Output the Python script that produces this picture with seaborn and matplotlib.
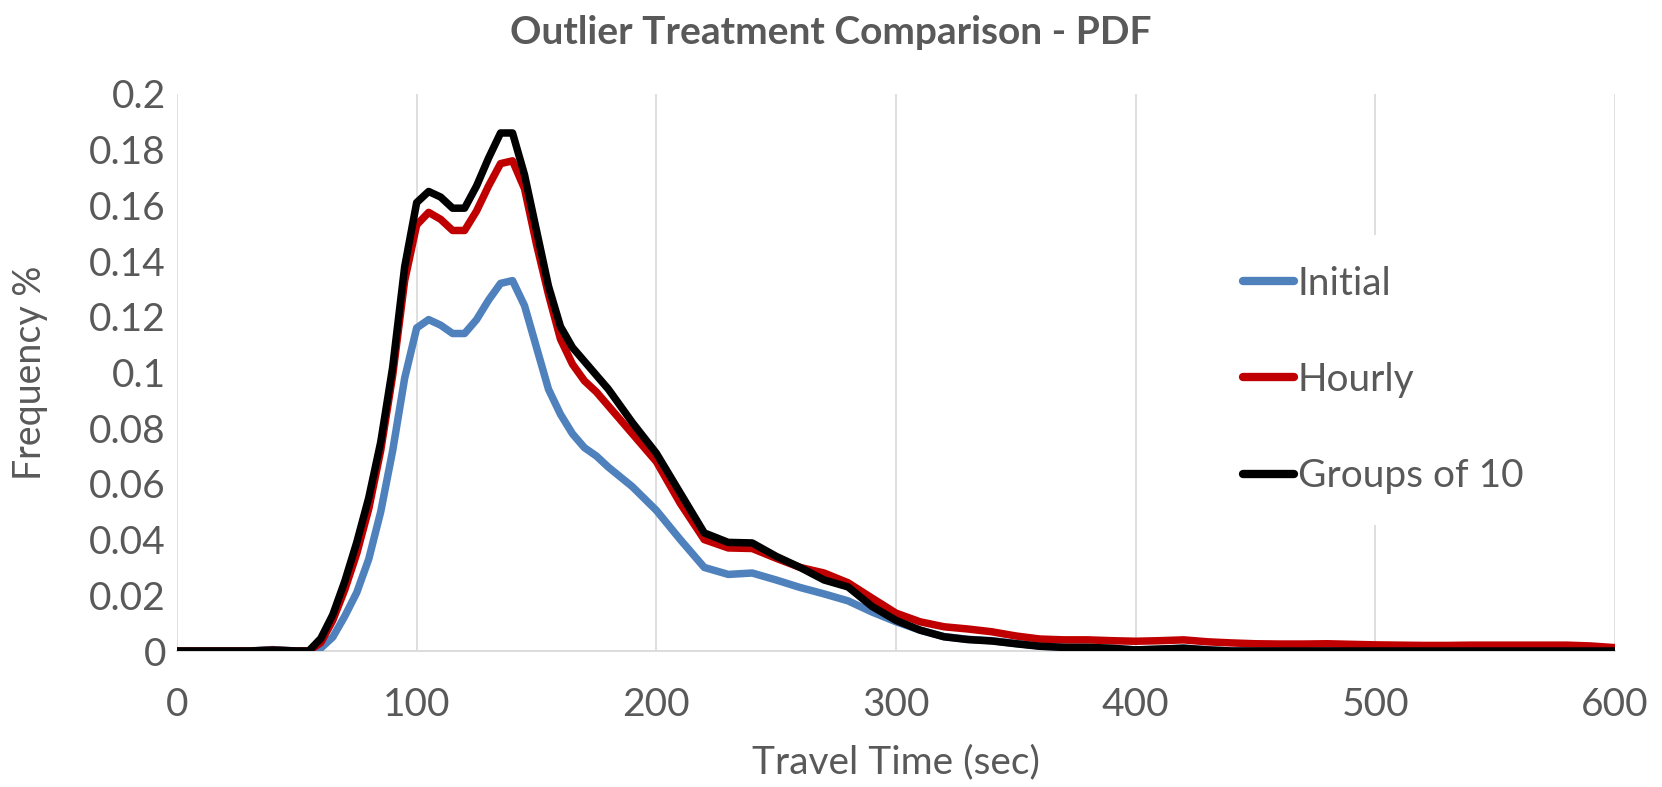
import numpy as np
import pandas as pd
import matplotlib
matplotlib.use("Agg")
import matplotlib.pyplot as plt
import seaborn as sns

# ---------------- data ----------------
travel_time = [0, 10, 20, 30, 40, 50, 55, 60, 65, 70, 75, 80, 85, 90, 95, 100, 105, 110, 115, 120,
               125, 130, 135, 140, 145, 150, 155, 160, 165, 170, 175, 180, 190, 200, 210, 220, 230,
               240, 250, 260, 270, 280, 290, 300, 310, 320, 330, 340, 350, 360, 370, 380, 390, 400,
               410, 420, 430, 440, 450, 460, 470, 480, 490, 500, 510, 520, 530, 540, 550, 560, 570,
               580, 590, 600]

initial = [0, 0, 0, 0, 0.0005, 0, 0, 0.001, 0.005, 0.0125, 0.021, 0.033, 0.050, 0.072, 0.098, 0.116,
           0.119, 0.117, 0.114, 0.114, 0.119, 0.126, 0.132, 0.133, 0.124, 0.109, 0.094, 0.085, 0.078,
           0.073, 0.070, 0.066, 0.059, 0.0505, 0.040, 0.030, 0.0275, 0.028, 0.0255, 0.0228, 0.0205,
           0.018, 0.014, 0.0105, 0.0075, 0.0052, 0.0042, 0.0037, 0.0027, 0.0018, 0.0013, 0.0012,
           0.0008, 0.0004, 0.0006, 0.001, 0.0004, 0, 0, 0, 0, 0, 0, 0, 0, 0, 0, 0, 0, 0, 0, 0, 0, 0]

hourly = [0, 0, 0, 0, 0.0003, 0, 0, 0.003, 0.011, 0.022, 0.035, 0.051, 0.072, 0.099, 0.133, 0.153,
          0.1575, 0.155, 0.151, 0.151, 0.158, 0.167, 0.175, 0.176, 0.166, 0.146, 0.128, 0.112, 0.103,
          0.097, 0.093, 0.088, 0.078, 0.068, 0.053, 0.040, 0.037, 0.0368, 0.0333, 0.030, 0.028,
          0.0245, 0.019, 0.0136, 0.0105, 0.0087, 0.0079, 0.0069, 0.0054, 0.0043, 0.004, 0.004,
          0.0037, 0.0035, 0.0037, 0.004, 0.0033, 0.0029, 0.0026, 0.0025, 0.0025, 0.0026, 0.0024,
          0.0022, 0.0021, 0.002, 0.002, 0.0021, 0.0021, 0.0021, 0.0021, 0.0021, 0.0018, 0.0012]

groups_of_10 = [0, 0, 0, 0, 0.0003, 0, 0, 0.0045, 0.013, 0.025, 0.039, 0.055, 0.075, 0.102, 0.138,
                0.161, 0.165, 0.163, 0.159, 0.159, 0.167, 0.177, 0.186, 0.186, 0.171, 0.151, 0.131,
                0.1165, 0.109, 0.104, 0.099, 0.094, 0.082, 0.071, 0.0567, 0.0424, 0.039, 0.0388,
                0.034, 0.030, 0.0255, 0.023, 0.016, 0.011, 0.0075, 0.0051, 0.0041, 0.0036, 0.0026,
                0.0017, 0.0013, 0.0013, 0.001, 0.0004, 0.0007, 0.001, 0.0004, 0, 0, 0, 0, 0, 0, 0,
                0, 0, 0, 0, 0, 0, 0, 0, 0, 0]

series_names = ["Initial", "Hourly", "Groups of 10"]
series_colors = ["#4F81BD", "#C00000", "#000000"]
x_ticks = [0, 100, 200, 300, 400, 500, 600]
y_ticks = [0, 0.02, 0.04, 0.06, 0.08, 0.1, 0.12, 0.14, 0.16, 0.18, 0.2]
y_tick_labels = ["0", "0.02", "0.04", "0.06", "0.08", "0.1", "0.12", "0.14", "0.16", "0.18", "0.2"]
title = "Outlier Treatment Comparison - PDF"
x_label = "Travel Time (sec)"
y_label = "Frequency %"

# ---------------- table ----------------
df = pd.DataFrame({"Travel Time": travel_time,
                   "Initial": initial,
                   "Hourly": hourly,
                   "Groups of 10": groups_of_10})
long = df.melt(id_vars="Travel Time", var_name="Series", value_name="Frequency")

# ---------------- style ----------------
sns.set_theme(style="white")
plt.rcParams["font.family"] = ["Lato", "DejaVu Sans"]
TXT = "#595959"
GRID = "#D9D9D9"

fig = plt.figure(figsize=(16.62, 7.87), dpi=100)
ax = fig.add_axes([177 / 1662, 1 - 651 / 787, (1615 - 177) / 1662, (651 - 94) / 787])

sns.lineplot(data=long, x="Travel Time", y="Frequency", hue="Series",
             hue_order=series_names, palette=series_colors, linewidth=5.4,
             ax=ax, legend=True, sort=False)
for ln in ax.get_lines():
    ln.set_solid_capstyle("round")
    ln.set_solid_joinstyle("round")

ax.set_xlim(0, 600)
ax.set_ylim(0, 0.2)
ax.set_xticks(x_ticks)
ax.set_xticklabels([str(t) for t in x_ticks])
ax.set_yticks(y_ticks)
ax.set_yticklabels(y_tick_labels)

for s in ["top", "right", "left"]:
    ax.spines[s].set_visible(False)
ax.spines["bottom"].set_color(GRID)
ax.spines["bottom"].set_linewidth(1.3)
ax.spines["bottom"].set_zorder(0.5)
ax.xaxis.grid(True, color=GRID, linewidth=1.2)
ax.yaxis.grid(False)
ax.set_axisbelow(True)

ax.tick_params(axis="x", length=0, pad=26, labelsize=28, labelcolor=TXT)
ax.tick_params(axis="y", length=0, pad=8, labelsize=28, labelcolor=TXT)

ax.set_xlabel(x_label, fontsize=28, color=TXT)
ax.set_ylabel(y_label, fontsize=27, color=TXT)
ax.xaxis.set_label_coords(0.5, (651 - 762) / 557)
ax.xaxis.label.set_va("center")
ax.yaxis.set_label_coords((30 - 177) / 1438, 0.5)
ax.yaxis.label.set_va("center")

fig.text(0.5, 1 - 32 / 787, title, ha="center", va="center",
         fontsize=28, fontweight="bold", color=TXT)

handles, labels = ax.get_legend_handles_labels()
for h in handles:
    h.set_linewidth(6)
leg = ax.legend(handles, labels, loc="center left",
                bbox_to_anchor=((1212 - 177) / 1438, (651 - 380) / 557),
                frameon=True, facecolor="white", edgecolor="none", framealpha=1,
                fontsize=28, handlelength=1.3, handletextpad=0.1, labelspacing=1.55,
                borderpad=0.8, borderaxespad=0)
for t in leg.get_texts():
    t.set_color(TXT)

fig.savefig("out.png", dpi=100, facecolor="white")
